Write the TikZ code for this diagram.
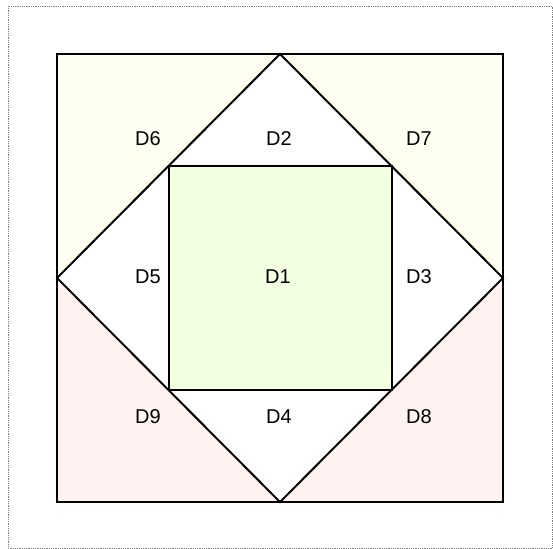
\documentclass[tikz,border=0pt]{standalone}
\usepackage{fontspec}
\setmainfont{Liberation Sans}
\definecolor{cyellow}{RGB}{255,255,242}
\definecolor{cpink}{RGB}{255,243,241}
\definecolor{cgreen}{RGB}{243,255,225}
\begin{document}
\begin{tikzpicture}[x=1pt,y=-1pt,
  edge/.style={draw=black,line width=2pt,line join=miter},
  lab/.style={font=\fontsize{20}{24}\selectfont,inner sep=0pt}]
\useasboundingbox (0,0) rectangle (553,548);
\draw[gray,densely dotted,line width=0.8pt] (8,6) rectangle (552.5,548);
% corners of outer square
\coordinate (TL) at (57,54);
\coordinate (TR) at (503,54);
\coordinate (BR) at (503,502);
\coordinate (BL) at (57,502);
% diamond vertices
\coordinate (T) at (280,54);
\coordinate (R) at (503,278);
\coordinate (B) at (280,502);
\coordinate (L) at (57,278);
% inner square
\coordinate (a) at (168.5,166);
\coordinate (b) at (391.5,166);
\coordinate (c) at (391.5,390);
\coordinate (d) at (168.5,390);
% fills
\fill[cyellow] (TL) -- (T) -- (L) -- cycle;
\fill[cyellow] (T) -- (TR) -- (R) -- cycle;
\fill[cpink] (L) -- (B) -- (BL) -- cycle;
\fill[cpink] (R) -- (BR) -- (B) -- cycle;
\fill[cgreen] (a) rectangle (c);
% lines
\draw[edge] (TL) rectangle (BR);
\draw[edge] (T) -- (R) -- (B) -- (L) -- cycle;
\draw[edge] (a) -- (b) -- (c) -- (d) -- cycle;
% labels
\node[lab] (D6) at (148,139) {D6};
\node[lab] (D2) at (279,139) {D2};
\node[lab] (D7) at (419,139) {D7};
\node[lab] (D5) at (148,277) {D5};
\node[lab] (D1) at (278,277) {D1};
\node[lab] (D3) at (419,277) {D3};
\node[lab] (D9) at (148,417) {D9};
\node[lab] (D4) at (279,417) {D4};
\node[lab] (D8) at (419,417) {D8};
\end{tikzpicture}
\end{document}
